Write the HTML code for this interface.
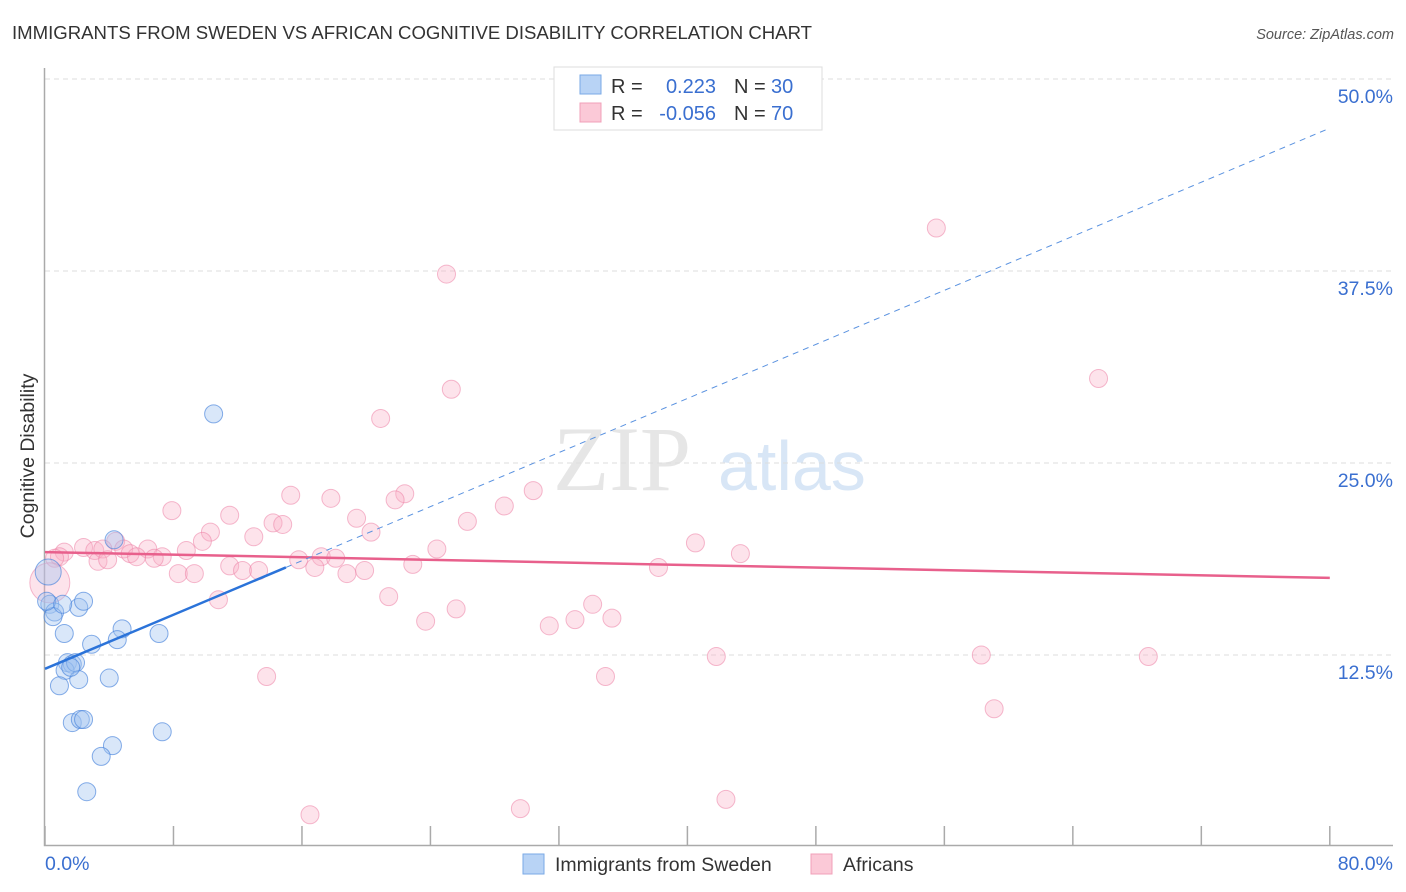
<!DOCTYPE html>
<html><head><meta charset="utf-8"><style>
body{margin:0;background:#fff;font-family:"Liberation Sans",sans-serif;}
#c{position:absolute;left:0;top:0;}
</style></head><body>
<svg id="c" width="1406" height="892">
<text x="12" y="39" font-size="18.6" fill="#333" textLength="800">IMMIGRANTS FROM SWEDEN VS AFRICAN COGNITIVE DISABILITY CORRELATION CHART</text>
<text x="1394" y="39" font-size="14.5" fill="#555" font-style="italic" text-anchor="end">Source: ZipAtlas.com</text>
<text x="34" y="456" font-size="19.5" fill="#333" text-anchor="middle" transform="rotate(-90 34 456)">Cognitive Disability</text>
<g>
<text x="553" y="490" font-size="92" font-family="Liberation Serif,serif" fill="#e6e6e6">ZIP</text>
<text x="718" y="490" font-size="70" fill="#d8e6f6">atlas</text>
</g>
<g id="grid"></g><g id="axes"></g><g id="pts"></g><g id="lines"></g>
<g>
<rect x="554" y="67" width="268" height="63" fill="#fff" stroke="#ddd"/>
<rect x="580" y="75" width="21" height="19" fill="#b8d3f5" stroke="#7aa9e6"/>
<rect x="580" y="103" width="21" height="19" fill="#fbc9d7" stroke="#f0a0b8"/>
<text x="611" y="93" font-size="20" fill="#333">R =</text>
<text x="716" y="93" font-size="20" fill="#3a6fd0" text-anchor="end">0.223</text>
<text x="734" y="93" font-size="20" fill="#333">N =</text>
<text x="771" y="93" font-size="20" fill="#3a6fd0">30</text>
<text x="611" y="120" font-size="20" fill="#333">R =</text>
<text x="716" y="120" font-size="20" fill="#3a6fd0" text-anchor="end">-0.056</text>
<text x="734" y="120" font-size="20" fill="#333">N =</text>
<text x="771" y="120" font-size="20" fill="#3a6fd0">70</text>
</g>
<g>
<rect x="523" y="854" width="21" height="20" fill="#b8d3f5" stroke="#7aa9e6"/>
<text x="555" y="871" font-size="19.5" fill="#333">Immigrants from Sweden</text>
<rect x="811" y="854" width="21" height="20" fill="#fbc9d7" stroke="#f0a0b8"/>
<text x="843" y="871" font-size="19.5" fill="#333">Africans</text>
</g>
</svg>
<script>
const yTicks=[12.5,25.0,37.5,50.0];
const xTickVals=[0,8,16,24,32,40,48,56,64,72,80];
const swedenX=[10.5,4.3,0.3,0.6,0.5,2.1,2.4,1.2,4.8,4.5,7.1,2.9,1.4,1.7,1.25,1.9,2.1,0.9,4.0,1.7,2.2,2.4,7.3,4.2,3.5,2.6,0.2,0.1,1.6,1.1];
const swedenY=[28.2,20.0,15.8,15.3,15.0,15.6,16.0,13.9,14.2,13.5,13.9,13.2,12.0,11.9,11.5,12.0,10.9,10.5,11.0,8.1,8.3,8.3,7.5,6.6,5.9,3.6,17.9,16.0,11.7,15.8];
const africanX=[55.5,25.0,65.6,25.3,20.9,15.3,17.8,22.4,21.8,30.4,7.9,28.6,11.5,19.4,26.3,14.2,14.8,10.3,20.3,13.0,9.8,40.5,43.3,24.4,8.8,4.4,2.4,3.1,1.2,0.9,0.6,3.6,4.9,6.4,5.3,5.7,7.3,6.8,3.3,3.9,15.8,17.2,18.1,22.9,11.5,12.3,13.3,16.8,8.3,9.3,18.8,19.9,38.2,0.3,21.4,10.8,34.1,25.6,35.3,33.0,23.7,31.4,41.8,58.3,68.7,13.8,34.9,59.1,42.4,29.6,16.5];
const africanY=[40.3,37.3,30.5,29.8,27.9,22.9,22.7,23.0,22.6,23.2,21.9,22.2,21.6,21.4,21.2,21.1,21.0,20.5,20.5,20.2,19.9,19.8,19.1,19.4,19.3,19.9,19.5,19.3,19.2,18.9,18.8,19.4,19.4,19.4,19.1,18.9,18.9,18.8,18.6,18.7,18.7,18.9,18.8,18.4,18.3,18.0,18.0,18.2,17.8,17.8,17.8,18.0,18.2,17.2,16.3,16.1,15.8,15.5,14.9,14.8,14.7,14.4,12.4,12.5,12.4,11.1,11.1,9.0,3.1,2.5,2.1];
const swedenFit=[11.6,0.44];
const africanFit=[19.2,-0.021];
const ns='http://www.w3.org/2000/svg';
const X=v=>45+v*16.06, Y=v=>847-v*15.36;
function mk(t,a,p){const e=document.createElementNS(ns,t);for(const k in a)e.setAttribute(k,a[k]);p.appendChild(e);return e;}
const grid=document.getElementById('grid'),axes=document.getElementById('axes'),pts=document.getElementById('pts'),lines=document.getElementById('lines');
yTicks.forEach(v=>{
 const l=mk('line',{x1:45,x2:1393,y1:Y(v),y2:Y(v),stroke:'#ddd','stroke-dasharray':'5,4'},grid);
 
 
 const t=mk('text',{x:1393,y:Y(v)+24,'font-size':19.5,fill:'#3a6fd0','text-anchor':'end'},grid);
 t.textContent=v.toFixed(1)+'%';
 
 
});
const ax=mk('path',{d:'M44.5 68 V845.5 H1393',stroke:'#aaa',fill:'none','stroke-width':1.5},axes);


xTickVals.forEach(v=>{
 const t=mk('line',{x1:X(v),x2:X(v),y1:826,y2:845,stroke:'#aaa','stroke-width':1.5},axes);
 
 
});
const xl0=mk('text',{x:45,y:870,'font-size':19.5,fill:'#3a6fd0'},axes);xl0.textContent='0.0%';


const xl1=mk('text',{x:1393,y:870,'font-size':19.5,fill:'#3a6fd0','text-anchor':'end'},axes);xl1.textContent='80.0%';


africanX.forEach((x,i)=>{
 const r=(i==53)?20:9;
 const c=mk('circle',{cx:X(x),cy:Y(africanY[i]),r:r,fill:'rgba(248,176,198,0.35)',stroke:'rgba(236,130,165,0.55)','stroke-width':1},pts);
 
 
});
swedenX.forEach((x,i)=>{
 const r=(i==26)?13:9;
 const c=mk('circle',{cx:X(x),cy:Y(swedenY[i]),r:r,fill:'rgba(160,196,240,0.4)',stroke:'rgba(70,130,220,0.65)','stroke-width':1},pts);
 
 
});
const pl=mk('line',{x1:X(0),y1:Y(africanFit[0]),x2:X(80),y2:Y(africanFit[0]+africanFit[1]*80),stroke:'#e8608c','stroke-width':2.5},lines);


const bs=mk('line',{x1:X(0),y1:Y(swedenFit[0]),x2:X(15),y2:Y(swedenFit[0]+swedenFit[1]*15),stroke:'#2b73d9','stroke-width':2.5},lines);


const bd=mk('line',{x1:X(15),y1:Y(swedenFit[0]+swedenFit[1]*15),x2:X(80),y2:Y(swedenFit[0]+swedenFit[1]*80),stroke:'#5a92e0','stroke-width':1,'stroke-dasharray':'6,5'},lines);


</script>
</body></html>
